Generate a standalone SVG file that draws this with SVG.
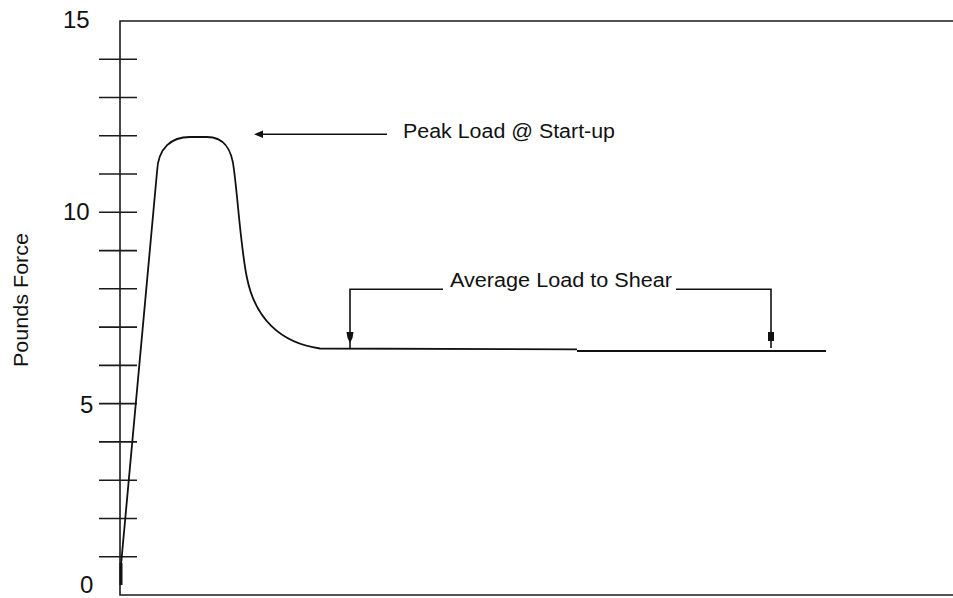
<svg xmlns="http://www.w3.org/2000/svg" width="953" height="598" viewBox="0 0 953 598">
<style>
.ax{stroke:#1a1a1a;stroke-width:1.6;fill:none}
.tk{stroke:#1a1a1a;stroke-width:1.6}
.crv{stroke:#111;stroke-width:1.8;fill:none}
.ln{stroke:#111;stroke-width:1.6;fill:none}
.ah{fill:#111;stroke:none}
.num{font-family:"Liberation Sans",Arial,sans-serif;font-size:24px;fill:#111}
.lbl{font-family:"Liberation Sans",Arial,sans-serif;font-size:20px;fill:#111}
</style>
<rect width="953" height="598" fill="#fff"/>
<g id="axes">
<path class="ax" d="M953,21 H120 V595 H953"/>
<g id="ticks">
<line class="tk" x1="99" x2="137" y1="59.2" y2="59.2"/>
<line class="tk" x1="99" x2="137" y1="97.5" y2="97.5"/>
<line class="tk" x1="99" x2="137" y1="135.8" y2="135.8"/>
<line class="tk" x1="99" x2="137" y1="174" y2="174"/>
<line class="tk" x1="99" x2="137" y1="212.3" y2="212.3"/>
<line class="tk" x1="99" x2="137" y1="250.6" y2="250.6"/>
<line class="tk" x1="99" x2="137" y1="288.8" y2="288.8"/>
<line class="tk" x1="99" x2="137" y1="327.1" y2="327.1"/>
<line class="tk" x1="99" x2="137" y1="365.4" y2="365.4"/>
<line class="tk" x1="99" x2="137" y1="403.6" y2="403.6"/>
<line class="tk" x1="99" x2="137" y1="441.9" y2="441.9"/>
<line class="tk" x1="99" x2="137" y1="480.2" y2="480.2"/>
<line class="tk" x1="99" x2="137" y1="518.5" y2="518.5"/>
<line class="tk" x1="99" x2="137" y1="556.7" y2="556.7"/>
</g>
<text class="num" x="63" y="28">15</text>
<text class="num" x="63" y="220">10</text>
<text class="num" x="80" y="413">5</text>
<text class="num" x="80" y="593">0</text>
<text class="lbl" transform="translate(28,300) rotate(-90)" text-anchor="middle" textLength="134" lengthAdjust="spacingAndGlyphs">Pounds Force</text>
</g>
<g id="curve">
<path class="crv" d="M121,585 L121,565 L157,172 C158,147 172,137 190,137 L207,137 C225,137 232,150 234,170 C238,200 241,250 247,278 C255,318 280,343 320,348.5 L577,349.3"/>
<path class="crv" style="stroke-width:3" d="M121,585 V563"/>
<path class="crv" d="M577,351 L826,351"/>
</g>
<g id="connectors">
<g id="peak-arrow">
<line class="ln" x1="261" y1="134.3" x2="387" y2="134.3"/>
<polygon class="ah" points="254,134.3 263,130.5 263,138"/>
</g>
<g id="avg-bracket">
<path class="ln" d="M443,289.3 H350 V349"/>
<path class="ln" d="M676,289.3 H771 V348"/>
<polygon class="ah" points="346.5,332 353.5,332 352.5,338 350,343 347.5,338"/>
<rect class="ah" x="768" y="332" width="6" height="9"/>
</g>
</g>
<g id="labels">
<text class="lbl" x="403" y="138" textLength="212" lengthAdjust="spacingAndGlyphs">Peak Load @ Start-up</text>
<text class="lbl" x="450" y="287" textLength="222" lengthAdjust="spacingAndGlyphs">Average Load to Shear</text>
</g>
</svg>
